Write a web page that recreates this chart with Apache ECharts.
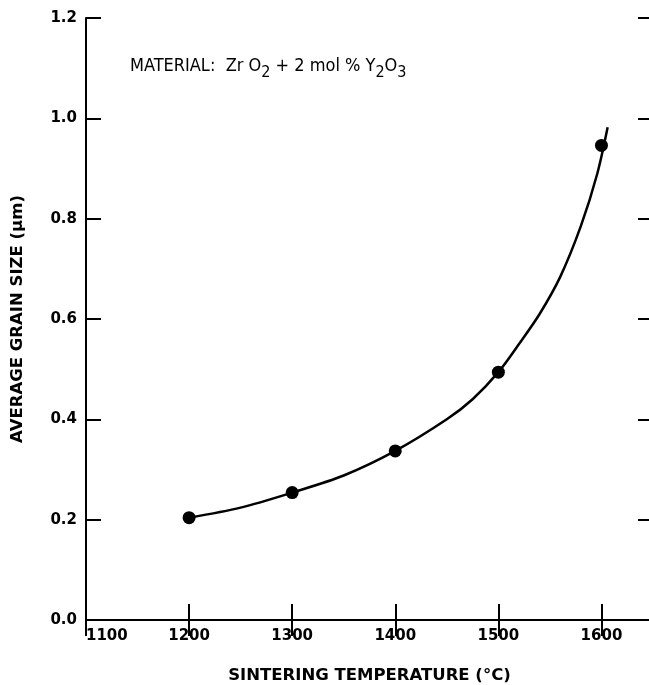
<!DOCTYPE html>
<html>
<head>
<meta charset="utf-8">
<script src="https://cdn.jsdelivr.net/npm/echarts@6/dist/echarts.min.js"></script>
<style>
html, body { margin: 0; padding: 0; background: #fff; }
#chart { width: 649px; height: 685px; }
</style>
</head>
<body>
<div id="chart"></div>
<script>
// measured points (sintering temperature, grain size)
const temps = [1200, 1300, 1400, 1500, 1600]
const sizes = [0.204, 0.254, 0.337, 0.494, 0.946]
// hand-drawn fit curve
const curveX = [1200, 1250, 1300, 1350, 1400, 1450, 1475, 1500, 1520, 1540, 1560, 1580, 1596, 1606]
const curveY = [0.204, 0.224, 0.254, 0.288, 0.337, 0.400, 0.440, 0.494, 0.550, 0.610, 0.684, 0.785, 0.890, 0.982]
const xTicks = [1100, 1200, 1300, 1400, 1500, 1600]
const yTicks = [0.0, 0.2, 0.4, 0.6, 0.8, 1.0, 1.2]

const chart = echarts.init(document.getElementById('chart'))

const black = '#000'
const tickFont = { color: black, fontFamily: 'DejaVu Sans', fontWeight: 'bold', fontSize: 15 }
const titleFont = { color: black, fontFamily: 'DejaVu Sans', fontWeight: 'bold', fontSize: 16.5 }

const option = {
  animation: false,
  grid: { left: 86, top: 18, right: -4, bottom: 65, outerBoundsMode: 'none' },
  xAxis: [
    {
      type: 'value', min: 1100, max: 1650, interval: 100,
      name: 'SINTERING TEMPERATURE (°C)', nameLocation: 'middle', nameGap: 47,
      nameTextStyle: titleFont,
      axisLine: { lineStyle: { color: black, width: 2 } },
      axisTick: { inside: true, length: 16, lineStyle: { color: black, width: 2 } },
      axisLabel: Object.assign({}, tickFont, {
        margin: 9, alignMinLabel: 'left',
        formatter: v => xTicks.includes(v) ? String(v) : ''
      }),
      splitLine: { show: false }
    },
    {
      type: 'value', min: 1100, max: 1650, interval: 100, position: 'top',
      axisLine: { lineStyle: { color: black, width: 2 } },
      axisTick: { inside: true, length: 16, lineStyle: { color: black, width: 2 } },
      axisLabel: { show: false },
      splitLine: { show: false }
    }
  ],
  yAxis: [
    {
      type: 'value', min: 0, max: 1.2, interval: 0.2,
      name: 'AVERAGE GRAIN SIZE (μm)', nameLocation: 'middle', nameGap: 60,
      nameTextStyle: titleFont,
      axisLine: { show: true, lineStyle: { color: black, width: 2 } },
      axisTick: { show: true, inside: true, length: 15, lineStyle: { color: black, width: 2 } },
      axisLabel: Object.assign({}, tickFont, {
        margin: 9,
        formatter: v => yTicks.some(t => Math.abs(t - v) < 1e-6) ? v.toFixed(1) : ''
      }),
      splitLine: { show: false }
    },
    {
      type: 'value', min: 0, max: 1.2, interval: 0.2, position: 'right',
      axisLine: { show: true, lineStyle: { color: black, width: 2 } },
      axisTick: { show: true, inside: true, length: 15, lineStyle: { color: black, width: 2 } },
      axisLabel: { show: false },
      splitLine: { show: false }
    }
  ],
  graphic: [
    {
      type: 'text', left: 130, top: 57,
      style: {
        text: '{a|MATERIAL:  Zr O}{s|2}{a| + 2 mol % Y}{s|2}{a|O}{s|3}',
        fill: black,
        rich: {
          a: { fontFamily: 'DejaVu Sans Condensed', fontSize: 18, color: black },
          s: { fontFamily: 'DejaVu Sans Condensed', fontSize: 16, color: black, padding: [14, 0, 0, 0] }
        }
      }
    }
  ],
  series: [
    {
      type: 'line',
      data: curveX.map((x, i) => [x, curveY[i]]),
      smooth: 0.3,
      showSymbol: false,
      lineStyle: { color: black, width: 2.5 }
    },
    {
      type: 'scatter',
      data: temps.map((t, i) => [t, sizes[i]]),
      symbolSize: 13,
      itemStyle: { color: black, opacity: 1 }
    }
  ]
}

chart.setOption(option)
</script>
</body>
</html>
